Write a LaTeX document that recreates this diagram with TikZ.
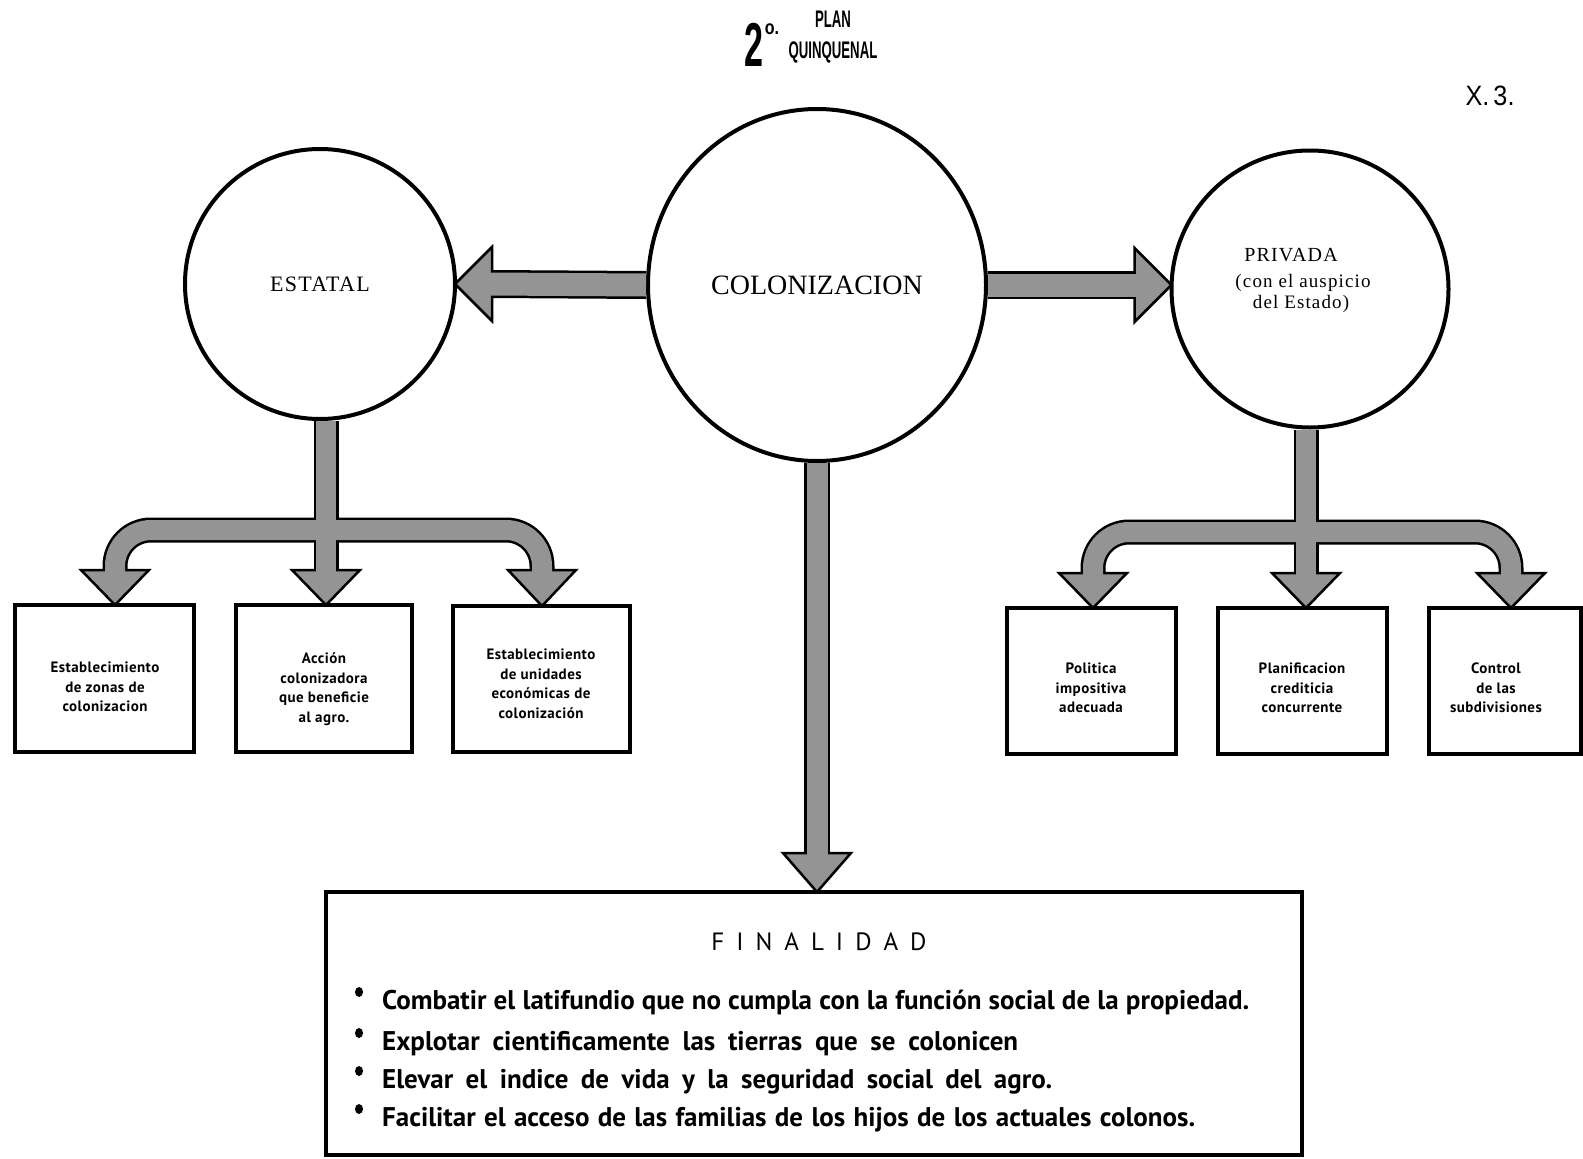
\documentclass[tikz,border=0pt]{standalone}
\usepackage{graphicx}
\usepackage{fontspec}
\setmainfont{Liberation Serif}
\newfontfamily\hdrfam{Liberation Sans}
\newfontfamily\lsfam[LetterSpace=6]{Liberation Serif}
\newfontfamily\optfam{PT Sans}
\newfontfamily\optls[LetterSpace=3]{PT Sans}
\usetikzlibrary{calc,shapes.geometric}
\definecolor{arrowgray}{gray}{0.58}
\begin{document}
\begin{tikzpicture}[x=1pt,y=-1pt,
  circ/.style={circle, draw=black, line width=4pt, fill=white, inner sep=0pt, outer sep=0pt},
  sbox/.style={rectangle, draw=black, line width=3.5pt, fill=white, inner sep=0pt, outer sep=0pt},
  btext/.style={align=center, inner sep=0pt, font=\optls\bfseries\fontsize{15}{19.5}\selectfont},
  ltext/.style={inner sep=0pt, anchor=base west, font=\optfam\bfseries\fontsize{27}{30}\selectfont},
  bul/.style={ellipse, fill=black, inner sep=0pt, minimum width=8pt, minimum height=10pt},
  mainout/.style={line width=28pt, draw=black},
  mainin/.style={line width=23pt, draw=arrowgray},
  downout/.style={line width=26pt, draw=black},
  downin/.style={line width=21pt, draw=arrowgray},
  treeout/.style={line width=25pt, draw=black, rounded corners=36pt},
  treein/.style={line width=20pt, draw=arrowgray, rounded corners=36pt},
  headsty/.style={fill=arrowgray, draw=black, line width=2.5pt, line join=miter},
]
\useasboundingbox (0,0) rectangle (1583,1159);
\fill[white] (0,0) rectangle (1583,1159);

% header
\node[inner sep=0pt, font=\hdrfam\bfseries\fontsize{62}{62}\selectfont] (two) at (754,45) {\scalebox{0.55}[1]{2}};
\node[inner sep=0pt, font=\hdrfam\bfseries\fontsize{20}{20}\selectfont] (deg) at (772,29) {\scalebox{0.8}[1]{o.}};
\node[inner sep=0pt, font=\hdrfam\bfseries\fontsize{24}{24}\selectfont] (plan) at (833,19) {\scalebox{0.55}[1]{PLAN}};
\node[inner sep=0pt, font=\hdrfam\bfseries\fontsize{24}{24}\selectfont] (quin) at (833,52) {\scalebox{0.55}[1]{QUINQUENAL}};
\node[inner sep=0pt, font=\hdrfam\fontsize{28}{28}\selectfont] (xref) at (1490,96) {\scalebox{0.9}[1]{X.\,3.}};

% circles
\node[ellipse, draw=black, line width=4pt, fill=white, inner sep=0pt, outer sep=0pt,
      minimum width=338pt, minimum height=352pt, font=\fontsize{28}{30}\selectfont] (col) at (817,285) {COLONIZACION};
\node[circ, minimum size=270pt, font=\lsfam\fontsize{22}{24}\selectfont] (est) at (320,284) {ESTATAL};
\node[circ, minimum size=277pt] (priv) at (1310,289) {};
\node[inner sep=0pt, font=\lsfam\fontsize{20}{22}\selectfont] (privA) at (1291,255) {PRIVADA};
\node[inner sep=0pt, font=\lsfam\fontsize{19}{22}\selectfont] (privB) at (1303,283) {(con el auspicio};
\node[inner sep=0pt, font=\lsfam\fontsize{19}{22}\selectfont] (privC) at (1301,304) {del Estado)};

% boxes
\node[sbox, minimum width=179pt, minimum height=147pt] (b1) at (104.5,678.5) {};
\node[sbox, minimum width=176pt, minimum height=147pt] (b2) at (324,678.5) {};
\node[sbox, minimum width=177pt, minimum height=146pt] (b3) at (541.5,679) {};
\node[sbox, minimum width=169pt, minimum height=146pt] (b4) at (1091.5,681) {};
\node[sbox, minimum width=169pt, minimum height=146pt] (b5) at (1302.5,681) {};
\node[sbox, minimum width=152pt, minimum height=146pt] (b6) at (1505,681) {};
\node[btext] (b1t) at (105,687) {Establecimiento\\de zonas de\\colonizacion};
\node[btext] (b2t) at (324,689) {Acción\\colonizadora\\que beneficie\\al agro.};
\node[btext] (b3t) at (541,684) {Establecimiento\\de unidades\\económicas de\\colonización};
\node[btext] (b4t) at (1091,688) {Politica\\impositiva\\adecuada};
\node[btext] (b5t) at (1302,688) {Planificacion\\crediticia\\concurrente};
\node[btext] (b6t) at (1496,688) {Control\\de las\\subdivisiones};

% finalidad box
\node[sbox, minimum width=976pt, minimum height=263pt] (fin) at (814,1023.5) {};
\node[inner sep=0pt, font=\optfam\fontsize{25}{25}\selectfont] (fint) at (819,942)
  {F\hspace{12pt}I\hspace{12pt}N\hspace{12pt}A\hspace{12pt}L\hspace{12pt}I\hspace{12pt}D\hspace{12pt}A\hspace{12pt}D};
\node[bul] (d1) at (359,992) {};
\node[bul] (d2) at (359,1033) {};
\node[bul] (d3) at (359,1071) {};
\node[bul] (d4) at (359,1109) {};
\node[ltext] (f1) at (382,1009) {\makebox[867pt][s]{Combatir el latifundio que no cumpla con la función social de la propiedad.}};
\node[ltext] (f2) at (382,1050) {\makebox[636pt][s]{Explotar cientificamente las tierras que se colonicen}};
\node[ltext] (f3) at (382,1088) {\makebox[670pt][s]{Elevar el indice de vida y la seguridad social del agro.}};
\node[ltext] (f4) at (382,1126) {\makebox[813pt][s]{Facilitar el acceso de las familias de los hijos de los actuales colonos.}};

% main arrow left
\coordinate (lb) at ($(est.east)+(37,0)$);
\draw[mainout] ($(col.west)+(-2,0)$) -- (lb);
\draw[headsty] ($(lb)+(0,-37)$) -- ($(lb)+(0,37)$) -- (est.east) -- cycle;
\draw[mainin] ($(col.west)+(-2,0)$) -- ($(lb)+(-3,0)$);

% main arrow right
\coordinate (rt) at (priv.west |- col.east);
\coordinate (rb) at ($(rt)+(-37,0)$);
\draw[mainout] ($(col.east)+(2,0)$) -- (rb);
\draw[headsty] ($(rb)+(0,-37)$) -- ($(rb)+(0,37)$) -- (rt) -- cycle;
\draw[mainin] ($(col.east)+(2,0)$) -- ($(rb)+(3,0)$);

% main arrow down
\coordinate (dt) at (col.south |- fin.north);
\coordinate (db) at ($(dt)+(0,-39)$);
\draw[downout] ($(col.south)+(0,2)$) -- (db);
\draw[headsty] ($(db)+(-34,0)$) -- ($(db)+(34,0)$) -- (dt) -- cycle;
\draw[downin] ($(col.south)+(0,2)$) -- ($(db)+(0,3)$);

% left tree
\coordinate (lj) at (326,530);
\coordinate (l1c) at (115,530);
\coordinate (l3c) at (542,530);
\coordinate (l1) at (115,570);
\coordinate (l2) at (326,570);
\coordinate (l3) at (542,570);
\coordinate (t1) at (l1 |- b1.north);
\coordinate (t2) at (l2 |- b2.north);
\coordinate (t3) at (l3 |- b3.north);
\draw[treeout] ($(lj |- est.south)+(0,2)$) -- (l2);
\draw[treeout] (lj) -- (l1c) -- (l1);
\draw[treeout] (lj) -- (l3c) -- (l3);
\draw[headsty] ($(l1)+(-34,0)$) -- ($(l1)+(34,0)$) -- (t1) -- cycle;
\draw[headsty] ($(l2)+(-34,0)$) -- ($(l2)+(34,0)$) -- (t2) -- cycle;
\draw[headsty] ($(l3)+(-34,0)$) -- ($(l3)+(34,0)$) -- (t3) -- cycle;
\draw[treein] ($(lj |- est.south)+(0,2)$) -- ($(l2)+(0,3)$);
\draw[treein] (lj) -- (l1c) -- ($(l1)+(0,3)$);
\draw[treein] (lj) -- (l3c) -- ($(l3)+(0,3)$);

% right tree
\coordinate (rj) at (1306,532);
\coordinate (r1c) at (1093,532);
\coordinate (r3c) at (1511,532);
\coordinate (r1) at (1093,573);
\coordinate (r2) at (1306,573);
\coordinate (r3) at (1511,573);
\coordinate (s1) at (r1 |- b4.north);
\coordinate (s2) at (r2 |- b5.north);
\coordinate (s3) at (r3 |- b6.north);
\draw[treeout] ($(rj |- priv.south)+(0,2)$) -- (r2);
\draw[treeout] (rj) -- (r1c) -- (r1);
\draw[treeout] (rj) -- (r3c) -- (r3);
\draw[headsty] ($(r1)+(-34,0)$) -- ($(r1)+(34,0)$) -- (s1) -- cycle;
\draw[headsty] ($(r2)+(-34,0)$) -- ($(r2)+(34,0)$) -- (s2) -- cycle;
\draw[headsty] ($(r3)+(-34,0)$) -- ($(r3)+(34,0)$) -- (s3) -- cycle;
\draw[treein] ($(rj |- priv.south)+(0,2)$) -- ($(r2)+(0,3)$);
\draw[treein] (rj) -- (r1c) -- ($(r1)+(0,3)$);
\draw[treein] (rj) -- (r3c) -- ($(r3)+(0,3)$);
\end{tikzpicture}
\end{document}
